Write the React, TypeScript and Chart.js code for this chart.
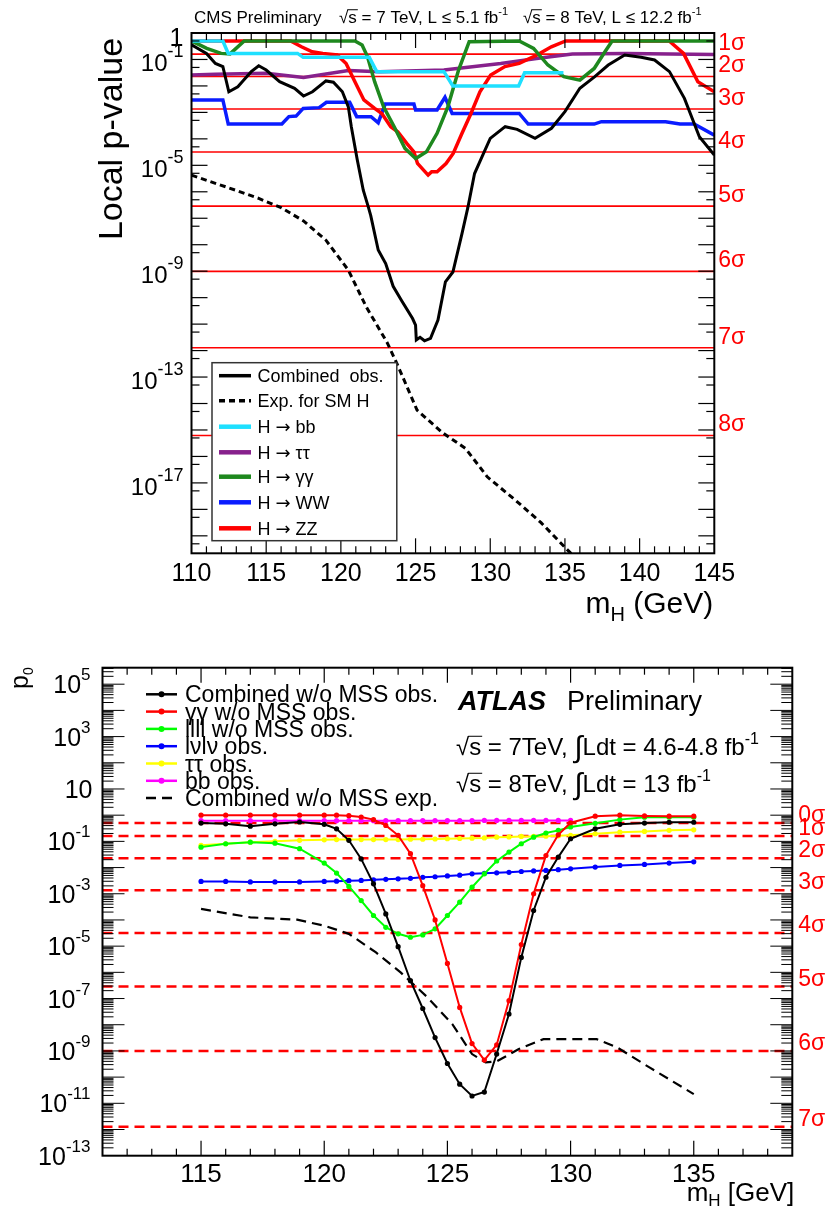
import React, { useEffect, useRef } from "react";
import { Chart, registerables } from "chart.js";

Chart.register(...registerables);

const FONT = '"Liberation Sans", Arial, Helvetica, sans-serif';
const ARROW_FONT = '"DejaVu Sans", sans-serif';

/* ======================= CMS (top panel) ======================= */
const cmsXTicks = [110, 115, 120, 125, 130, 135, 140, 145];
const cmsYLabelExps = [-1, -5, -9, -13, -17];
const cmsSigmaNames = ["1σ", "2σ", "3σ", "4σ", "5σ", "6σ", "7σ", "8σ"];
const cmsSigmaP = [1.587e-1, 2.275e-2, 1.35e-3, 3.17e-5, 2.87e-7, 9.87e-10, 1.28e-12, 6.22e-16];

// values are log10(local p-value)
const cmsCombMass = [110, 111, 111.6, 112.1, 112.5, 113.1, 113.5, 114, 114.5, 115, 115.9, 116.9, 117.5, 118.1, 119, 119.5, 120.1, 120.5, 120.7, 121.1, 121.5, 121.85, 122.0, 122.5, 123.0, 123.5, 124.05, 124.8, 125.0, 125.05, 125.3, 125.6, 126.0, 126.5, 127.0, 127.5, 128.1, 128.5, 128.95, 129.55, 130, 131, 131.8, 133, 134.1, 135, 136, 137, 137.9, 139, 140.1, 141, 142, 143, 144, 145];
const cmsCombLogP = [-0.45, -0.77, -1.15, -1.27, -2.22, -2.03, -1.78, -1.46, -1.24, -1.4, -1.84, -2.09, -2.38, -2.22, -1.81, -1.86, -2.22, -2.79, -3.54, -4.8, -5.94, -6.6, -6.9, -8.2, -8.71, -9.57, -10.1, -10.79, -11.04, -11.6, -11.5, -11.63, -11.54, -10.85, -9.4, -9.03, -7.6, -6.6, -5.31, -4.55, -3.98, -3.54, -3.64, -3.98, -3.6, -2.97, -2.09, -1.65, -1.21, -0.83, -0.92, -1.02, -1.46, -2.47, -3.92, -4.61];

const cmsExpMass = [110, 111.6, 113, 114.5, 116, 117.5, 119, 120.5, 121.7, 123.1, 123.8, 125.1, 126.8, 128.35, 129.8, 131.7, 133.4, 135.2, 136];
const cmsExpLogP = [-5.37, -5.68, -5.95, -6.25, -6.6, -7.1, -7.83, -8.96, -10.35, -11.7, -12.55, -14.25, -15.1, -15.7, -16.77, -17.66, -18.5, -19.55, -20.0];

const cmsBbMass = [110, 112.1, 112.46, 117.1, 117.48, 121.9, 122.4, 126.9, 127.5, 131.9, 132.3, 134.9];
const cmsBbLogP = [-0.3, -0.3, -0.77, -0.77, -0.92, -0.92, -1.46, -1.46, -2.0, -2.0, -1.5, -1.5];

const cmsTauMass = [110, 111.6, 115, 117.5, 120.5, 122.6, 126.9, 130.7, 133.1, 135.5, 139.1, 145];
const cmsTauLogP = [-1.59, -1.56, -1.52, -1.68, -1.42, -1.46, -1.4, -1.15, -0.96, -0.79, -0.77, -0.81];

const cmsGgMass = [110, 111.02, 111.98, 112.58, 113.53, 120.94, 121.42, 121.78, 122.26, 122.86, 123.57, 124.29, 125.01, 125.73, 126.44, 127.16, 127.88, 128.59, 131.94, 132.9, 133.86, 134.93, 136.0, 136.96, 137.68, 138.16, 145];
const cmsGgLogP = [-0.3, -0.58, -0.77, -0.79, -0.3, -0.3, -0.45, -0.89, -1.84, -2.79, -3.54, -4.36, -4.74, -4.49, -3.79, -2.79, -1.4, -0.33, -0.3, -0.58, -1.21, -1.65, -1.78, -1.34, -0.71, -0.3, -0.3];

const cmsWwMass = [110, 112.1, 112.46, 116.05, 116.52, 117.0, 117.48, 118.55, 119.03, 120.59, 121.06, 122.02, 122.5, 122.97, 124.89, 125.0, 126.44, 126.97, 127.45, 131.94, 132.54, 136.96, 137.44, 141.74, 142.7, 143.65, 145];
const cmsWwLogP = [-2.53, -2.53, -3.44, -3.44, -3.16, -3.14, -2.85, -2.82, -2.62, -2.62, -3.16, -3.16, -3.39, -2.68, -2.68, -2.91, -2.91, -2.43, -3.04, -3.04, -3.44, -3.44, -3.35, -3.35, -3.44, -3.44, -3.86];

const cmsZzMass = [110, 116.64, 117.36, 118.08, 118.79, 119.75, 120.35, 120.94, 121.54, 122.26, 122.74, 123.34, 123.81, 124.41, 124.89, 125.13, 125.84, 126.08, 126.44, 127.04, 127.52, 128.11, 128.71, 129.31, 130.03, 130.98, 131.94, 133.13, 134.09, 135.05, 141.98, 142.94, 143.9, 145];
const cmsZzLogP = [-0.3, -0.3, -0.52, -0.71, -0.77, -0.83, -1.15, -1.84, -2.53, -2.85, -3.04, -3.54, -3.73, -4.17, -4.49, -4.93, -5.37, -5.24, -5.24, -4.93, -4.55, -3.79, -3.04, -2.22, -1.59, -1.27, -1.15, -0.83, -0.52, -0.3, -0.3, -0.77, -1.84, -2.22];

const cmsLegendLabels = ["Combined  obs.", "Exp. for SM H", "H → bb", "H → ττ", "H → γγ", "H → WW", "H → ZZ"];

/* ======================= ATLAS (bottom panel) ======================= */
const atlasXTicks = [115, 120, 125, 130, 135];
const atlasYLabelExps = [5, 3, 1, -1, -3, -5, -7, -9, -11, -13];
const atlasSigmaNames = ["0σ", "1σ", "2σ", "3σ", "4σ", "5σ", "6σ", "7σ"];
const atlasSigmaP = [0.5, 1.587e-1, 2.275e-2, 1.35e-3, 3.17e-5, 2.87e-7, 9.87e-10, 1.28e-12];

const atlasMass = [115, 116, 117, 118, 119, 120, 120.5, 121, 121.5, 122, 122.5, 123, 123.5, 124, 124.5, 125, 125.5, 126, 126.5, 127, 127.5, 128, 128.5, 129, 129.5, 130, 131, 132, 133, 134, 135];
const atlasCombLogP = [-0.3, -0.33, -0.42, -0.33, -0.26, -0.35, -0.52, -0.96, -1.67, -2.62, -3.77, -5.02, -6.32, -7.38, -8.49, -9.48, -10.27, -10.72, -10.57, -9.12, -7.59, -5.43, -3.64, -2.37, -1.6, -0.9, -0.52, -0.35, -0.3, -0.27, -0.27];
const atlasGgLogP = [0, 0, 0, 0, 0, 0, 0, -0.02, -0.07, -0.17, -0.39, -0.77, -1.47, -2.69, -4.0, -5.66, -7.34, -8.72, -9.35, -8.77, -7.08, -4.94, -3.0, -1.54, -0.75, -0.29, -0.04, 0, -0.03, -0.04, -0.04];
const atlasZzLogP = [-1.22, -1.09, -1.03, -1.07, -1.28, -1.83, -2.21, -2.72, -3.26, -3.83, -4.28, -4.53, -4.66, -4.57, -4.34, -3.83, -3.32, -2.75, -2.24, -1.75, -1.41, -1.09, -0.84, -0.68, -0.58, -0.45, -0.31, -0.17, -0.08, -0.08, -0.08];
const atlasWwLogP = [-2.53, -2.53, -2.55, -2.55, -2.55, -2.53, -2.52, -2.5, -2.49, -2.47, -2.45, -2.43, -2.41, -2.37, -2.35, -2.32, -2.29, -2.24, -2.22, -2.2, -2.18, -2.15, -2.13, -2.11, -2.08, -2.05, -1.98, -1.92, -1.88, -1.83, -1.78];
const atlasTauLogP = [-1.15, -1.09, -1.03, -1.0, -0.96, -0.94, -0.93, -0.93, -0.93, -0.93, -0.93, -0.93, -0.92, -0.92, -0.91, -0.9, -0.89, -0.88, -0.87, -0.84, -0.83, -0.81, -0.81, -0.8, -0.79, -0.77, -0.71, -0.65, -0.62, -0.58, -0.56];
const atlasBbMass = [115, 116, 117, 118, 119, 120, 120.5, 121, 121.5, 122, 122.5, 123, 123.5, 124, 124.5, 125, 125.5, 126, 126.5, 127, 127.5, 128, 128.5, 129, 129.5, 130];
const atlasBbLogP = [-0.21, -0.21, -0.21, -0.21, -0.21, -0.21, -0.21, -0.21, -0.21, -0.21, -0.21, -0.21, -0.21, -0.21, -0.21, -0.21, -0.21, -0.21, -0.2, -0.2, -0.2, -0.2, -0.2, -0.2, -0.2, -0.2];
const atlasExpMass = [115, 117, 118.9, 120, 121, 122.1, 123.1, 124.2, 125.2, 126, 126.55, 127, 127.9, 128.9, 130, 131.06, 131.9, 133.2, 135];
const atlasExpLogP = [-3.58, -3.9, -3.99, -4.22, -4.53, -5.24, -6.0, -6.96, -7.98, -9.12, -9.44, -9.4, -8.93, -8.55, -8.55, -8.55, -8.87, -9.63, -10.65];

const atlasLegendLabels = ["Combined w/o MSS obs.", "γγ w/o MSS obs.", "llll w/o MSS obs.", "lνlν obs.", "ττ obs.", "bb obs.", "Combined w/o MSS exp."];

/* ======================= helpers ======================= */
const pts = (m: number[], lp: number[]) => m.map((x, i) => ({ x, y: Math.pow(10, lp[i]) }));

type Seg = { t: string; s: number; dy?: number; w?: string; over?: boolean; gap?: number; f?: string };
const fnt = (g: Seg) => `${g.w ? g.w + " " : ""}${g.s}px ${g.f ?? FONT}`;

function richWidth(ctx: CanvasRenderingContext2D, segs: Seg[]) {
  let w = 0;
  for (const g of segs) {
    ctx.font = fnt(g);
    w += ctx.measureText(g.t).width + (g.gap ?? 0);
  }
  return w;
}

function drawRich(ctx: CanvasRenderingContext2D, x: number, y: number, segs: Seg[], align: "left" | "right" | "center" = "left") {
  const total = richWidth(ctx, segs);
  let cx = align === "right" ? x - total : align === "center" ? x - total / 2 : x;
  ctx.textAlign = "left";
  ctx.textBaseline = "alphabetic";
  for (const g of segs) {
    ctx.font = fnt(g);
    const w = ctx.measureText(g.t).width;
    ctx.fillText(g.t, cx, y + (g.dy ?? 0));
    if (g.over) {
      ctx.save();
      ctx.lineWidth = 1;
      ctx.strokeStyle = ctx.fillStyle as string;
      const oy = y + (g.dy ?? 0) - g.s * 0.78;
      ctx.beginPath();
      ctx.moveTo(cx - 1, oy);
      ctx.lineTo(cx + w + 1, oy);
      ctx.stroke();
      ctx.restore();
    }
    cx += w + (g.gap ?? 0);
  }
}

// split "H → xx" so that the arrow uses a font with a full-size arrow glyph
function legendSegs(label: string, size: number): Seg[] {
  const i = label.indexOf("→");
  if (i < 0) return [{ t: label, s: size }];
  return [
    { t: label.slice(0, i), s: size },
    { t: "→", s: size, f: ARROW_FONT },
    { t: label.slice(i + 1), s: size },
  ];
}

function seg(ctx: CanvasRenderingContext2D, x1: number, y1: number, x2: number, y2: number) {
  ctx.beginPath();
  ctx.moveTo(x1, y1);
  ctx.lineTo(x2, y2);
  ctx.stroke();
}

/* ======================= CMS decorations ======================= */
const T_H = 640;
const cmsDecor = {
  id: "cmsDecor",
  afterDatasetsDraw(chart: any) {
    const { ctx, chartArea: a, scales } = chart;
    const xs = scales.x;
    const ys = scales.y;
    ctx.save();
    // ticks
    ctx.strokeStyle = "#000";
    ctx.lineWidth = 1.2;
    for (let m = 111; m < 145; m++) {
      const px = xs.getPixelForValue(m);
      const len = cmsXTicks.includes(m) ? 15 : 7;
      seg(ctx, px, a.bottom, px, a.bottom - len);
      seg(ctx, px, a.top, px, a.top + len);
    }
    for (let e = 0; e >= -20; e--) {
      for (const [v, len] of [[Math.pow(10, e), 16], [5 * Math.pow(10, e - 1), 8]] as [number, number][]) {
        const py = ys.getPixelForValue(v);
        if (py <= a.top + 0.5 || py >= a.bottom - 0.5) continue;
        seg(ctx, a.left, py, a.left + len, py);
        seg(ctx, a.right, py, a.right - len, py);
      }
    }
    // frame
    ctx.lineWidth = 2;
    ctx.strokeRect(a.left, a.top, a.right - a.left, a.bottom - a.top);

    // legend box
    const lx = 212, ly = 362.7, lw = 184.8, lh = 178;
    ctx.fillStyle = "#fff";
    ctx.fillRect(lx, ly, lw, lh);
    ctx.strokeStyle = "#333";
    ctx.lineWidth = 1.5;
    ctx.strokeRect(lx, ly, lw, lh);
    const rows = [375.7, 400.7, 426.7, 452.3, 476.7, 502.3, 528.3];
    const ds = chart.data.datasets;
    rows.forEach((ry, i) => {
      const d = ds[i];
      ctx.strokeStyle = d.borderColor;
      ctx.lineWidth = i < 2 ? 3.5 : 4.5;
      ctx.setLineDash(i === 1 ? [6, 4] : []);
      seg(ctx, 219, ry, 251, ry);
      ctx.setLineDash([]);
      ctx.fillStyle = "#000";
      drawRich(ctx, 257.5, ry + 6.5, legendSegs(cmsLegendLabels[i], 18));
    });

    // x tick labels
    ctx.fillStyle = "#000";
    for (const m of cmsXTicks) {
      drawRich(ctx, xs.getPixelForValue(m), a.bottom + 28, [{ t: String(m), s: 25 }], "center");
    }
    // y tick labels
    const rx = a.left - 8;
    drawRich(ctx, rx, ys.getPixelForValue(1) + 13, [{ t: "1", s: 25 }], "right");
    for (const e of cmsYLabelExps) {
      const py = ys.getPixelForValue(Math.pow(10, e));
      drawRich(ctx, rx, py + 12, [{ t: "10", s: 24 }, { t: String(e), s: 18, dy: -14 }], "right");
    }
    // sigma labels
    ctx.fillStyle = "#ff0000";
    cmsSigmaP.forEach((p, i) => {
      drawRich(ctx, a.right + 4, ys.getPixelForValue(p) - 4, [{ t: cmsSigmaNames[i], s: 23 }]);
    });

    // axis titles
    ctx.fillStyle = "#000";
    drawRich(ctx, a.right - 1, a.bottom + 60, [{ t: "m", s: 30 }, { t: "H", s: 20, dy: 8 }, { t: " (GeV)", s: 30 }], "right");
    ctx.save();
    ctx.translate(122, 139);
    ctx.rotate(-Math.PI / 2);
    drawRich(ctx, 0, 0, [{ t: "Local p-value", s: 34 }], "center");
    ctx.restore();

    // header
    drawRich(ctx, 194, 23, [{ t: "CMS Preliminary", s: 17 }]);
    drawRich(ctx, 339, 23, [{ t: "√", s: 17 }, { t: "s", s: 17, over: true }, { t: " = 7 TeV, L ≤ 5.1 fb", s: 17 }, { t: "-1", s: 11, dy: -8 }]);
    drawRich(ctx, 523, 23, [{ t: "√", s: 17 }, { t: "s", s: 17, over: true }, { t: " = 8 TeV, L ≤ 12.2 fb", s: 17 }, { t: "-1", s: 11, dy: -8 }]);
    ctx.restore();
  },
};

/* ======================= ATLAS decorations ======================= */
const B_TOP = 640;
const atlasDecor = {
  id: "atlasDecor",
  afterDatasetsDraw(chart: any) {
    const { ctx, chartArea: a, scales } = chart;
    const xs = scales.x;
    const ys = scales.y;
    ctx.save();
    ctx.strokeStyle = "#000";
    ctx.lineWidth = 1.2;
    for (let m = 112; m < 139; m++) {
      const px = xs.getPixelForValue(m);
      const len = atlasXTicks.includes(m) ? 15 : 7;
      seg(ctx, px, a.bottom, px, a.bottom - len);
      seg(ctx, px, a.top, px, a.top + len);
    }
    ctx.lineWidth = 1;
    for (let e = -13; e <= 5; e++) {
      for (let k = 1; k <= 9; k++) {
        const v = k * Math.pow(10, e);
        const py = ys.getPixelForValue(v);
        if (py <= a.top + 0.5 || py >= a.bottom - 0.5) continue;
        const len = k === 1 ? 22 : 11;
        seg(ctx, a.left, py, a.left + len, py);
        seg(ctx, a.right, py, a.right - len, py);
      }
    }
    ctx.lineWidth = 2;
    ctx.strokeRect(a.left, a.top, a.right - a.left, a.bottom - a.top);

    // legend
    const rows = [694.3, 711.6, 728.9, 746.2, 763.5, 780.8, 798.1].map((v) => v - B_TOP);
    const ds = chart.data.datasets;
    rows.forEach((ry, i) => {
      const d = ds[i];
      ctx.strokeStyle = d.borderColor;
      ctx.lineWidth = 2.5;
      ctx.setLineDash(i === 6 ? [10, 6] : []);
      seg(ctx, 146, ry, i === 6 ? 172 : 177, ry);
      ctx.setLineDash([]);
      if (i < 6) {
        ctx.fillStyle = d.borderColor;
        ctx.beginPath();
        ctx.arc(161.5, ry, 3, 0, Math.PI * 2);
        ctx.fill();
      }
      ctx.fillStyle = "#000";
      drawRich(ctx, 185, ry + 8, [{ t: atlasLegendLabels[i], s: 23 }]);
    });

    // ATLAS label
    ctx.fillStyle = "#000";
    drawRich(ctx, 458, 710 - B_TOP, [{ t: "ATLAS", s: 27, w: "italic bold" }]);
    drawRich(ctx, 567, 710 - B_TOP, [{ t: "Preliminary", s: 27 }]);
    drawRich(ctx, 456, 755 - B_TOP, [
      { t: "√", s: 24 }, { t: "s", s: 24, over: true }, { t: " = 7TeV, ", s: 24 },
      { t: "∫", s: 30, dy: 2 }, { t: "Ldt = 4.6-4.8 fb", s: 24 }, { t: "-1", s: 16, dy: -11 },
    ]);
    drawRich(ctx, 456, 792 - B_TOP, [
      { t: "√", s: 24 }, { t: "s", s: 24, over: true }, { t: " = 8TeV, ", s: 24 },
      { t: "∫", s: 30, dy: 2 }, { t: "Ldt = 13 fb", s: 24 }, { t: "-1", s: 16, dy: -11 },
    ]);

    // tick labels
    for (const m of atlasXTicks) {
      drawRich(ctx, xs.getPixelForValue(m), a.bottom + 26, [{ t: String(m), s: 26 }], "center");
    }
    const rx = a.left - 12;
    for (const e of atlasYLabelExps) {
      const py = ys.getPixelForValue(Math.pow(10, e));
      if (e === 1) drawRich(ctx, rx + 2, py + 9, [{ t: "10", s: 25 }], "right");
      else drawRich(ctx, rx, py + 9, [{ t: "10", s: 25 }, { t: String(e), s: 17, dy: -13 }], "right");
    }
    // sigma labels
    ctx.fillStyle = "#ff0000";
    atlasSigmaP.forEach((p, i) => {
      drawRich(ctx, a.right + 6, ys.getPixelForValue(p) - 1, [{ t: atlasSigmaNames[i], s: 23 }]);
    });
    // titles
    ctx.fillStyle = "#000";
    drawRich(ctx, a.right + 2, 1201 - B_TOP, [{ t: "m", s: 26 }, { t: "H", s: 17, dy: 5 }, { t: " [GeV]", s: 26 }], "right");
    ctx.save();
    ctx.translate(28, 689 - B_TOP);
    ctx.rotate(-Math.PI / 2);
    drawRich(ctx, 0, 0, [{ t: "p", s: 25 }, { t: "0", s: 14, dy: 5 }]);
    ctx.restore();
    ctx.restore();
  },
};

/* ======================= charts ======================= */
function makeCms(canvas: HTMLCanvasElement) {
  const lineDs = (label: string, m: number[], lp: number[], color: string, width: number, order: number, dash: number[] = []) => ({
    label, data: pts(m, lp), borderColor: color, backgroundColor: color, borderWidth: width,
    borderDash: dash, pointRadius: 0, tension: 0, fill: false, order,
  });
  const datasets: any[] = [
    lineDs("Combined obs.", cmsCombMass, cmsCombLogP, "#000000", 3, 0),
    lineDs("Exp. for SM H", cmsExpMass, cmsExpLogP, "#000000", 3, 1, [6, 4]),
    lineDs("H → bb", cmsBbMass, cmsBbLogP, "#1ee0ff", 3.5, 2),
    lineDs("H → ττ", cmsTauMass, cmsTauLogP, "#87218c", 3.5, 5),
    lineDs("H → γγ", cmsGgMass, cmsGgLogP, "#1e881e", 3.5, 3),
    lineDs("H → WW", cmsWwMass, cmsWwLogP, "#0a1cff", 3.5, 6),
    lineDs("H → ZZ", cmsZzMass, cmsZzLogP, "#ff0000", 3.5, 4),
  ];
  cmsSigmaP.forEach((p, i) => {
    datasets.push({
      label: cmsSigmaNames[i], data: [{ x: 110, y: p }, { x: 145, y: p }], borderColor: "#ff0000",
      borderWidth: 1.6, pointRadius: 0, fill: false, order: 20,
    });
  });
  return new Chart(canvas, {
    type: "line",
    data: { datasets },
    plugins: [cmsDecor],
    options: {
      animation: false, responsive: false, maintainAspectRatio: false, devicePixelRatio: 1, events: [],
      layout: { padding: { left: 191.5, right: 831 - 714.3, top: 33, bottom: T_H - 553.3 } },
      plugins: { legend: { display: false }, tooltip: { enabled: false } },
      scales: {
        x: { type: "linear", min: 110, max: 145, display: false },
        y: { type: "logarithmic", min: Math.pow(10, -19.66), max: 1, display: false },
      },
    },
  } as any);
}

function makeAtlas(canvas: HTMLCanvasElement) {
  const lineDs = (label: string, m: number[], lp: number[], color: string, order: number, dots = true, dash: number[] = []) => ({
    label, data: pts(m, lp), borderColor: color, backgroundColor: color, borderWidth: dots ? 2 : 2.2,
    borderDash: dash, pointRadius: dots ? 2.6 : 0, pointBorderWidth: 0, pointBackgroundColor: color,
    tension: 0, fill: false, order,
  });
  const datasets: any[] = [
    lineDs("Combined w/o MSS obs.", atlasMass, atlasCombLogP, "#000000", 0),
    lineDs("γγ w/o MSS obs.", atlasMass, atlasGgLogP, "#ff0000", 1),
    lineDs("llll w/o MSS obs.", atlasMass, atlasZzLogP, "#00ff00", 2),
    lineDs("lνlν obs.", atlasMass, atlasWwLogP, "#0000ff", 3),
    lineDs("ττ obs.", atlasMass, atlasTauLogP, "#ffff00", 4),
    lineDs("bb obs.", atlasBbMass, atlasBbLogP, "#ff00ff", 5),
    lineDs("Combined w/o MSS exp.", atlasExpMass, atlasExpLogP, "#000000", 6, false, [10, 6]),
  ];
  atlasSigmaP.forEach((p, i) => {
    datasets.push({
      label: atlasSigmaNames[i], data: [{ x: 111, y: p }, { x: 139, y: p }], borderColor: "#ff0000",
      borderWidth: 2.5, borderDash: [10, 6], pointRadius: 0, fill: false, order: 20,
    });
  });
  return new Chart(canvas, {
    type: "line",
    data: { datasets },
    plugins: [atlasDecor],
    options: {
      animation: false, responsive: false, maintainAspectRatio: false, devicePixelRatio: 1, events: [],
      layout: { padding: { left: 102.5, right: 831 - 792.3, top: 667.7 - B_TOP, bottom: 1212 - 1155.7 } },
      plugins: { legend: { display: false }, tooltip: { enabled: false } },
      scales: {
        x: { type: "linear", min: 111, max: 139, display: false },
        y: { type: "logarithmic", min: 1e-13, max: Math.pow(10, 5.63), display: false },
      },
    },
  } as any);
}

export default function App() {
  const topRef = useRef<HTMLCanvasElement>(null);
  const botRef = useRef<HTMLCanvasElement>(null);
  useEffect(() => {
    const c1 = makeCms(topRef.current!);
    const c2 = makeAtlas(botRef.current!);
    return () => {
      c1.destroy();
      c2.destroy();
    };
  }, []);
  return (
    <div style={{ position: "absolute", left: 0, top: 0, width: 831, height: 1212, background: "#fff", overflow: "hidden" }}>
      <canvas ref={topRef} width={831} height={T_H} style={{ position: "absolute", left: 0, top: 0, width: 831, height: T_H }} />
      <canvas ref={botRef} width={831} height={1212 - B_TOP} style={{ position: "absolute", left: 0, top: B_TOP, width: 831, height: 1212 - B_TOP }} />
    </div>
  );
}
